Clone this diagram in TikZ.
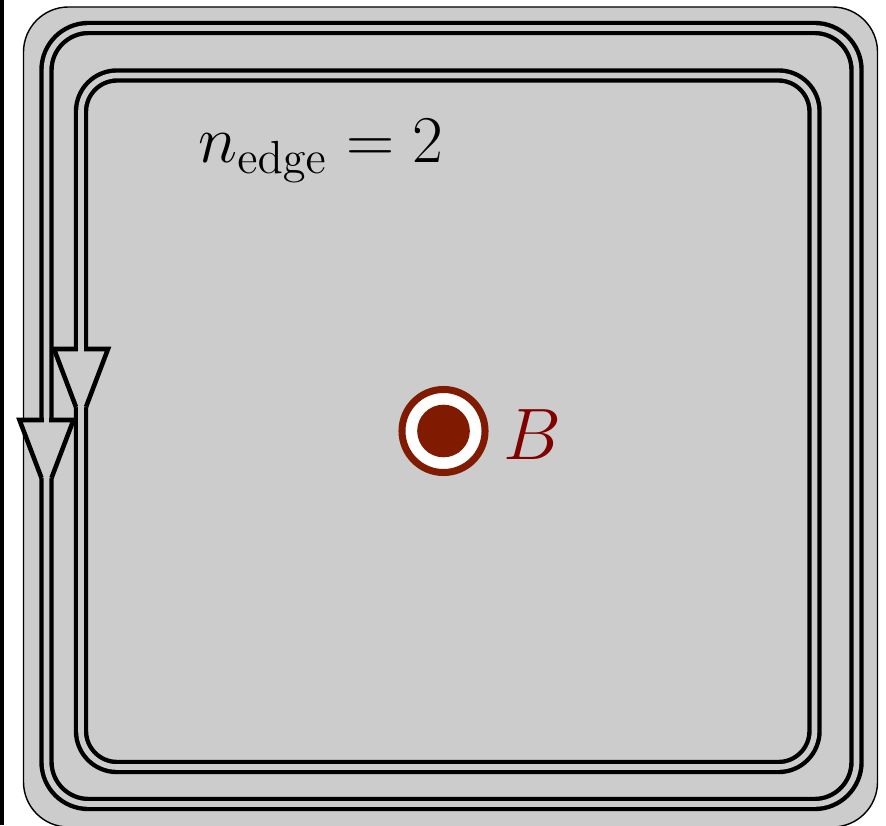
\documentclass[tikz,border=0pt]{standalone}
\definecolor{fieldred}{RGB}{128,26,0}
\definecolor{labelred}{RGB}{128,0,0}
\begin{document}
\begin{tikzpicture}[x=0.01cm, y=-0.01cm,
  wire/.style={line width=1.25pt, double=black!20, double distance=1.6pt},
  core/.style={black!20, line width=1.6pt}]
\useasboundingbox (0,0) rectangle (886,825);
\fill (0,0) rectangle (4,825);
\draw[fill=black!20, rounded corners=0.45cm] (23.5,7) rectangle (877.5,827);
\draw[wire, rounded corners=0.42cm] (46.5,478)--(46.5,804)--(856.5,804)--(856.5,28)--(46.5,28)--cycle;
\draw[wire, rounded corners=0.36cm] (81,405)--(81,767)--(814.5,767)--(814.5,75.5)--(81,75.5)--cycle;
\foreach \cx/\ty in {46.5/420, 81/349}
{
    \fill[black!20] (\cx-27,\ty)--(\cx+27,\ty)--(\cx+5,\ty+58)--(\cx-5,\ty+58)--cycle;
    \draw[line width=1.3pt, miter limit=20] (\cx-5,\ty+58)--(\cx-27,\ty)--(\cx+27,\ty)--(\cx+5,\ty+58);
    \draw[core] (\cx,\ty-8)--(\cx,\ty+4);
}
\node[anchor=base west] (nedge) at (186,163) {\scalebox{1.1}{\LARGE $n_{\mathrm{edge}}=2$}};
\draw[fieldred, fill=white, line width=2pt] (443.5,431) circle (0.415cm);
\fill[fieldred] (443.5,431) circle (0.263cm);
\node[anchor=base west, text=labelred] (blabel) at (491,459) {\huge $B$};
\end{tikzpicture}
\end{document}
